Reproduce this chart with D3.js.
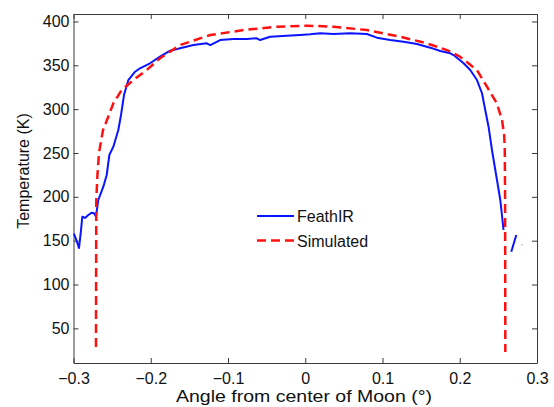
<!DOCTYPE html>
<html>
<head>
<meta charset="utf-8">
<script src="https://cdn.jsdelivr.net/npm/d3@7"></script>
<style>
  body { margin: 0; background: #fff; }
  text { font-family: "Liberation Sans", Arial, sans-serif; fill: #111; }
</style>
</head>
<body>
<div id="chart"></div>
<script>
// Measured FeathIR profile (angle in degrees, temperature in K)
const feathAngle = [-0.2995, -0.2960, -0.2929, -0.2905, -0.2886, -0.2851, -0.2808, -0.2764, -0.2730,
  -0.2709, -0.2679, -0.2614, -0.2570, -0.2536, -0.2484, -0.2420, -0.2385, -0.2346, -0.2290, -0.2203,
  -0.2139, -0.2010, -0.1880, -0.1750, -0.1620, -0.1448, -0.1275, -0.1230, -0.1102, -0.0930, -0.0756,
  -0.0627, -0.0584, -0.0455, -0.0238, -0.0066, 0.0063, 0.0193, 0.0366, 0.0580, 0.0798, 0.0927, 0.1100,
  0.1272, 0.1446, 0.1618, 0.1748, 0.1877, 0.1920, 0.2050, 0.2136, 0.2223, 0.2288, 0.2330, 0.2373,
  0.2417, 0.2482, 0.2525, 0.2567];
const feathTemp = [158, 150, 141.6, 160, 177.3, 175.9, 179.3, 181.9, 181,
  177.3, 196.4, 211.6, 224.9, 247.7, 257.2, 276.2, 293.3, 316.1, 333.2, 342.7,
  346.6, 352.3, 359.8, 366.7, 369.4, 373.1, 375.1, 373.1, 378.8, 380.0, 380.0,
  380.8, 378.8, 382.6, 383.7, 384.5, 385.3, 386.5, 385.7, 386.5, 385.7, 381.5, 378.8,
  376.9, 374.3, 370.1, 366.3, 363.7, 361.7, 352.3, 344.6, 333.2, 318.1, 299.0, 280.0,
  253.4, 219.2, 196.4, 162.2];
// Short detached pieces beyond the right limb
const feathTailAngle = [0.2667, 0.2732];
const feathTailTemp = [137.4, 156.5];
const feathDotAngle = [0.2802, 0.2809];
const feathDotTemp = [145.5, 144.8];

// Simulated profile
const simAngle = [-0.2709, -0.2705, -0.2690, -0.2670, -0.2618, -0.2550, -0.2484, -0.2376, -0.2225,
  -0.2052, -0.1880, -0.1620, -0.1230, -0.0799, -0.0368, 0.0020, 0.0366, 0.0798, 0.1230, 0.1570,
  0.1834, 0.2005, 0.2223, 0.2352, 0.2480, 0.2547, 0.2575, 0.2583, 0.2587, 0.2590];
const simTemp = [28.7, 196.4, 224.9, 250.0, 276.2, 291.4, 306.7, 321.8, 333.2,
  344.6, 358.0, 373.1, 384.5, 390.2, 394.0, 395.2, 394.0, 390.2, 382.6, 375.1,
  367.4, 359.8, 344.6, 325.6, 306.7, 287.6, 270.5, 253.4, 196.4, 23.0];

const xTicks = [-0.3, -0.2, -0.1, 0, 0.1, 0.2, 0.3];
const yTicks = [50, 100, 150, 200, 250, 300, 350, 400];
const seriesNames = ["FeathIR", "Simulated"];

const width = 554, height = 407;
const margin = { top: 14, right: 17, bottom: 44, left: 73.5 };
const chartWidth = width - margin.left - margin.right;
const chartHeight = height - margin.top - margin.bottom;

const svg = d3.select("#chart").append("svg")
  .attr("width", width)
  .attr("height", height);

const g = svg.append("g")
  .attr("transform", "translate(" + margin.left + "," + margin.top + ")");

// Scales
const x = d3.scaleLinear().domain([-0.3, 0.3]).range([0, chartWidth]);
const y = d3.scaleLinear().domain([10.5, 408.5]).range([chartHeight, 0]);

const fmt = d => d === 0 ? "0" : d3.format(".1f")(d);

// Axes, MATLAB style with inward ticks on all four sides
function styleAxis(sel) {
  sel.selectAll("path, line").attr("stroke", "#3a3a3a").attr("stroke-width", 1);
  sel.selectAll("text").attr("font-size", "16px").attr("fill", "#111")
    .attr("font-family", "Liberation Sans, Arial, sans-serif");
}

g.append("g")
  .attr("transform", "translate(0," + chartHeight + ")")
  .call(d3.axisBottom(x).tickValues(xTicks).tickFormat(fmt).tickSizeInner(-5).tickSizeOuter(0).tickPadding(10))
  .call(styleAxis);

g.append("g")
  .call(d3.axisTop(x).tickValues(xTicks).tickFormat("").tickSizeInner(-5).tickSizeOuter(0))
  .call(styleAxis);

g.append("g")
  .call(d3.axisLeft(y).tickValues(yTicks).tickSizeInner(-5).tickSizeOuter(0).tickPadding(4))
  .call(styleAxis);

g.append("g")
  .attr("transform", "translate(" + chartWidth + ",0)")
  .call(d3.axisRight(y).tickValues(yTicks).tickFormat("").tickSizeInner(-5).tickSizeOuter(0))
  .call(styleAxis);

// Lines
const line = d3.line().x(d => x(d[0])).y(d => y(d[1]));

function addBlue(ax, ty) {
  g.append("path")
    .datum(d3.zip(ax, ty))
    .attr("fill", "none")
    .attr("stroke", "#0a14ff")
    .attr("stroke-width", 2)
    .attr("stroke-linejoin", "round")
    .attr("d", line);
}
addBlue(feathAngle, feathTemp);
addBlue(feathTailAngle, feathTailTemp);
g.append("path")
  .datum(d3.zip(feathDotAngle, feathDotTemp))
  .attr("fill", "none")
  .attr("stroke", "#0a14ff")
  .attr("stroke-width", 1)
  .attr("d", line);

g.append("path")
  .datum(d3.zip(simAngle, simTemp))
  .attr("fill", "none")
  .attr("stroke", "#ff1010")
  .attr("stroke-width", 2.5)
  .attr("stroke-dasharray", "9,5")
  .attr("d", line);

// Legend
const legend = svg.append("g").attr("transform", "translate(257,216)");
legend.append("line").attr("x1", 0).attr("x2", 37).attr("y1", 0).attr("y2", 0)
  .attr("stroke", "#0a14ff").attr("stroke-width", 2);
legend.append("line").attr("x1", 0).attr("x2", 37).attr("y1", 24.5).attr("y2", 24.5)
  .attr("stroke", "#ff1010").attr("stroke-width", 2.5).attr("stroke-dasharray", "9,5");
legend.selectAll("text.leg")
  .data(seriesNames)
  .enter().append("text")
  .attr("class", "leg")
  .attr("x", 40)
  .attr("y", (d, i) => 6 + i * 24.5)
  .attr("font-size", "16px")
  .text(d => d);

// Axis labels
svg.append("text")
  .attr("x", 304)
  .attr("y", 402)
  .attr("text-anchor", "middle")
  .attr("font-size", "17px")
  .attr("textLength", 256)
  .attr("lengthAdjust", "spacingAndGlyphs")
  .text("Angle from center of Moon (°)");

svg.append("text")
  .attr("transform", "rotate(-90)")
  .attr("x", -171)
  .attr("y", 28.5)
  .attr("text-anchor", "middle")
  .attr("font-size", "16px")
  .text("Temperature (K)");
</script>
</body>
</html>
